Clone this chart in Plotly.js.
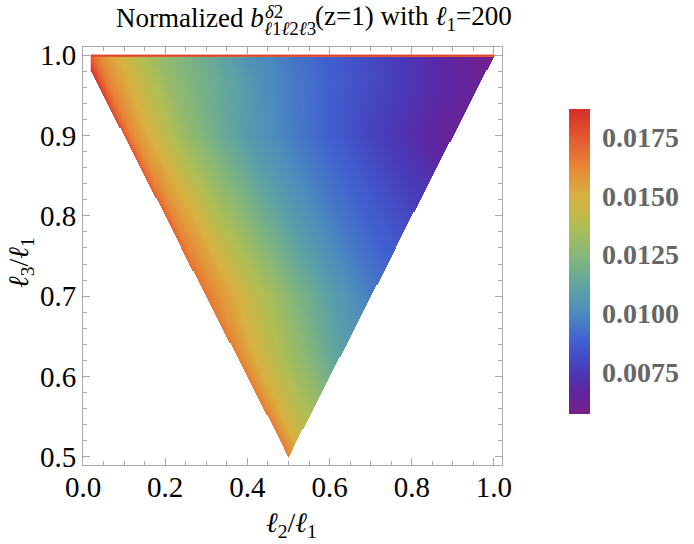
<!DOCTYPE html>
<html>
<head>
<meta charset="utf-8">
<script src="https://cdn.plot.ly/plotly-3.0.1.min.js"></script>
<style>html,body{margin:0;padding:0;background:#fff}</style>
</head>
<body>
<div id="chart" style="width:694px;height:544px"></div>
<script>
// Normalised second-order bispectrum b^{δ2}_{ℓ1ℓ2ℓ3} at z = 1 for fixed ℓ1 = 200,
// shown over the triangle ℓ2 ≤ ℓ3 ≤ ℓ1, ℓ2 + ℓ3 ≥ ℓ1.
const ell1 = 200;
const ell2Min = 4;
const ell2Step = 0.5;
const ell3Step = 0.25;

// Tabulated values against flatness d = (ℓ2 + ℓ3 − ℓ1)/ℓ1, one row per ℓ3/ℓ1
const flatness = [0, 0.01, 0.025, 0.05, 0.08, 0.12, 0.17, 0.23, 0.3, 0.4, 0.5, 0.6, 0.7, 0.8, 0.9, 1.0];
const rowRatio = [0.5, 0.62, 0.7, 0.9, 0.97, 0.9975, 0.99875, 1.0];
const bRow0500 = [0.0165, 0.0160, 0.0153, 0.0145, 0.0138, 0.0130, 0.0122, 0.0110, 0.0100, 0.0090, 0.0082, 0.0076, 0.0070, 0.0065, 0.0060, 0.0058];
const bRow0620 = [0.0165, 0.0160, 0.0155, 0.0148, 0.0142, 0.0134, 0.0125, 0.0113, 0.0103, 0.0092, 0.0084, 0.0077, 0.0071, 0.0065, 0.0060, 0.0058];
const bRow0700 = [0.0167, 0.0164, 0.0160, 0.0155, 0.0149, 0.0141, 0.0132, 0.0121, 0.0109, 0.0096, 0.0087, 0.0079, 0.0071, 0.0064, 0.0060, 0.0058];
const bRow0900 = [0.0176, 0.0167, 0.0159, 0.0153, 0.0146, 0.0136, 0.0127, 0.0117, 0.0107, 0.0097, 0.0088, 0.0078, 0.0070, 0.0063, 0.0060, 0.0058];
const bRow0970 = [0.0184, 0.0176, 0.0166, 0.0157, 0.0150, 0.0141, 0.0131, 0.0123, 0.0115, 0.0102, 0.0094, 0.0086, 0.0079, 0.0071, 0.0065, 0.0059];
const bRow0998 = [0.0187, 0.0180, 0.0168, 0.0158, 0.0151, 0.0142, 0.0132, 0.0124, 0.0116, 0.0103, 0.0095, 0.0087, 0.0080, 0.0072, 0.0065, 0.0059];
const bRow0999 = [0.0187, 0.0182, 0.0178, 0.0176, 0.0176, 0.0175, 0.0175, 0.0175, 0.0175, 0.0175, 0.0175, 0.0175, 0.0175, 0.0175, 0.0175, 0.0175];
const bRow1000 = [0.0187, 0.0184, 0.0181, 0.0180, 0.0180, 0.0180, 0.0180, 0.0180, 0.0180, 0.0180, 0.0180, 0.0180, 0.0180, 0.0180, 0.0180, 0.0180];
const bTable = [bRow0500, bRow0620, bRow0700, bRow0900, bRow0970, bRow0998, bRow0999, bRow1000];

// Colour bar
const zMin = 0.0057, zMax = 0.0187;
const barTicks = [0.0075, 0.0100, 0.0125, 0.0150, 0.0175];
const barLabels = ['0.0075', '0.0100', '0.0125', '0.0150', '0.0175'];

// "Rainbow" colour scheme
const rainbow = [
  [0.000, 'rgb(121,32,133)'],
  [0.070, 'rgb(96,36,160)'],
  [0.138, 'rgb(73,58,186)'],
  [0.240, 'rgb(64,96,208)'],
  [0.331, 'rgb(76,140,190)'],
  [0.420, 'rgb(96,164,160)'],
  [0.523, 'rgb(134,184,118)'],
  [0.620, 'rgb(178,190,82)'],
  [0.715, 'rgb(216,176,64)'],
  [0.810, 'rgb(231,134,54)'],
  [0.908, 'rgb(226,88,47)'],
  [1.000, 'rgb(216,45,40)']
];

function bracket(knots, v) {
  let i = 0;
  while (i < knots.length - 2 && v > knots[i + 1]) i++;
  const t = Math.min(1, Math.max(0, (v - knots[i]) / (knots[i + 1] - knots[i])));
  return [i, t];
}
function tableValue(d, r) {
  const [i, s] = bracket(flatness, d);
  const [j, t] = bracket(rowRatio, r);
  const a = bTable[j][i] * (1 - s) + bTable[j][i + 1] * s;
  const b = bTable[j + 1][i] * (1 - s) + bTable[j + 1][i + 1] * s;
  return a * (1 - t) + b * t;
}

// Sample grid over (ℓ2, ℓ3)
const xs = [], ys = [];
for (let l2 = ell2Min; l2 <= ell1 + 1e-9; l2 += ell2Step) xs.push(l2 / ell1);
for (let l3 = ell1 / 2; l3 <= ell1 + 1e-9; l3 += ell3Step) ys.push(l3 / ell1);
const z = ys.map(r => xs.map(q => {
  const inside = q <= r + 1e-9 && q + r >= 1 - 1e-9;
  return inside ? tableValue(q + r - 1, r) : null;
}));

// Pixel helpers for the plot frame (left 83, right 502, top 47, bottom 465)
const L = 83, R = 502, T = 47, B = 465;
const px = v => (v - L) / (R - L);
const py = v => (B - v) / (B - T);

const serif = 'Liberation Serif, Times New Roman, serif';
const frameGrey = '#a8a8a8';

const trace = {
  type: 'heatmap',
  x: xs, y: ys, z: z,
  zmin: zMin, zmax: zMax,
  colorscale: rainbow,
  zsmooth: false,
  connectgaps: false,
  hoverinfo: 'skip',
  colorbar: {
    x: px(569), xanchor: 'left', xpad: 0,
    y: py(261.5), yanchor: 'middle', ypad: 0,
    thickness: 21, thicknessmode: 'pixels',
    len: 305, lenmode: 'pixels',
    outlinewidth: 0,
    tickmode: 'array', tickvals: barTicks, ticktext: barLabels,
    ticks: 'outside', ticklen: 7, tickcolor: 'rgba(0,0,0,0)',
    tickfont: { family: serif, size: 28, color: '#666666', weight: 'bold' }
  }
};

const axisCommon = {
  showgrid: false, zeroline: false,
  showline: true, linecolor: frameGrey, linewidth: 1, mirror: 'ticks',
  ticks: 'inside', ticklen: 7, tickcolor: frameGrey, tickwidth: 1,
  tickfont: { family: serif, size: 29, color: '#000' },
  tickformat: '.1f'
};

const titleFont = { family: serif, size: 27, color: '#000' };
const scriptFont = { family: serif, size: 19, color: '#000' };
const axisTitleFont = { family: serif, size: 28, color: '#000' };

const layout = {
  width: 694, height: 544,
  margin: { l: L, r: 694 - R, t: T, b: 544 - B, autoexpand: false },
  paper_bgcolor: '#fff', plot_bgcolor: '#fff',
  showlegend: false,
  xaxis: Object.assign({}, axisCommon, {
    range: [0, 1.0196], tick0: 0, dtick: 0.2,
    ticklabelstandoff: -4,
    minor: { dtick: 0.05, ticks: 'inside', ticklen: 4, tickcolor: frameGrey }
  }),
  yaxis: Object.assign({}, axisCommon, {
    range: [0.49, 1.01], tick0: 0.5, dtick: 0.1,
    minor: { dtick: 0.02, ticks: 'inside', ticklen: 4, tickcolor: frameGrey }
  }),
  annotations: [
    // chart title, assembled so the superscript sits over the subscript
    { text: 'Normalized <i>b</i>', xref: 'paper', yref: 'paper', x: px(266), y: py(18),
      xanchor: 'right', yanchor: 'middle', showarrow: false, font: titleFont },
    { text: '<i>δ</i>2', xref: 'paper', yref: 'paper', x: px(263), y: py(11),
      xanchor: 'left', yanchor: 'middle', showarrow: false, font: scriptFont },
    { text: '<i>ℓ</i>1<i>ℓ</i>2<i>ℓ</i>3', xref: 'paper', yref: 'paper', x: px(262), y: py(28),
      xanchor: 'left', yanchor: 'middle', showarrow: false, font: scriptFont },
    { text: '(z=1) with <i>ℓ</i><sub>1</sub>=200', xref: 'paper', yref: 'paper', x: px(313), y: py(18),
      xanchor: 'left', yanchor: 'middle', showarrow: false, font: titleFont },
    // axis titles
    { text: '<i>ℓ</i><sub>2</sub>/<i>ℓ</i><sub>1</sub>', xref: 'paper', yref: 'paper', x: px(291), y: py(524),
      xanchor: 'center', yanchor: 'middle', showarrow: false, font: axisTitleFont },
    { text: '<i>ℓ</i><sub>3</sub>/<i>ℓ</i><sub>1</sub>', xref: 'paper', yref: 'paper', x: px(20), y: py(262),
      xanchor: 'center', yanchor: 'middle', textangle: -90, showarrow: false, font: axisTitleFont }
  ]
};

Plotly.newPlot('chart', [trace], layout, { displayModeBar: false, staticPlot: true });
</script>
</body>
</html>
